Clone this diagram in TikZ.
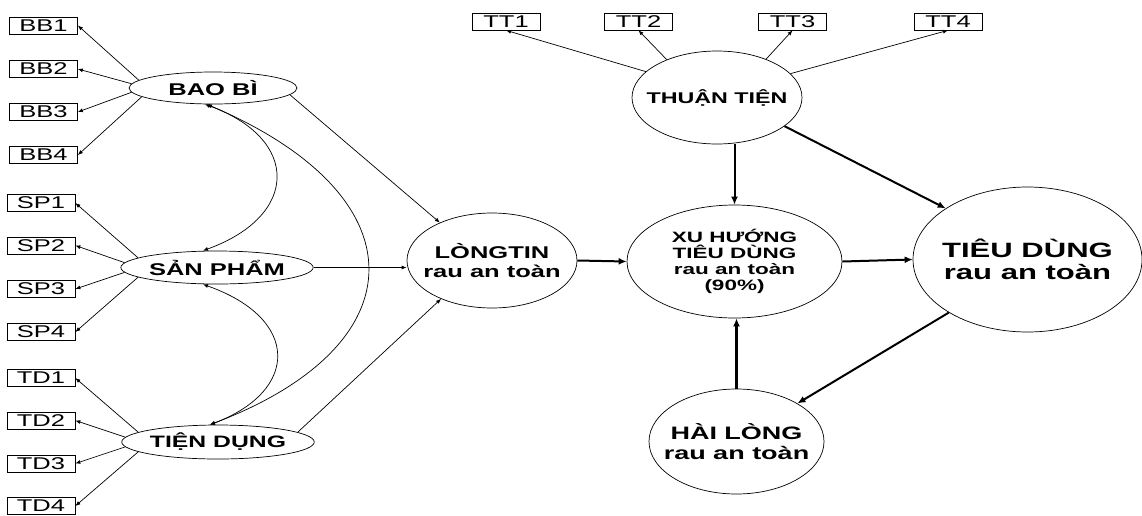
\documentclass[tikz,border=0pt]{standalone}
\usepackage{fontspec}
\setmainfont{Liberation Sans}[FakeStretch=1.5]
\usetikzlibrary{shapes.geometric,arrows.meta}
\begin{document}
\begin{tikzpicture}[x=1pt,y=-1pt,
  obs/.style={draw, line width=0.7pt, minimum width=68pt, minimum height=17pt, inner sep=0pt, font=\fontsize{17}{18}\selectfont},
  lat/.style={draw, ellipse, line width=0.7pt, inner sep=0pt},
  lab/.style={align=center, inner sep=0pt},
  thin/.style={-{Latex[length=5pt,width=4pt]}, line width=0.7pt},
  cov/.style={{Latex[length=5pt,width=4pt]}-{Latex[length=5pt,width=4pt]}, line width=0.7pt},
  main/.style={-{Latex[length=8pt,width=7pt]}, line width=2pt},
]
\useasboundingbox (0,0) rectangle (1142,515);
% observed indicators
\node[obs] (BB1) at (43.5,25.5) {BB1};
\node[obs] (BB2) at (43.5,69) {BB2};
\node[obs] (BB3) at (43.5,112) {BB3};
\node[obs] (BB4) at (43.5,155) {BB4};
\node[obs] (SP1) at (41,203) {SP1};
\node[obs] (SP2) at (41,245.5) {SP2};
\node[obs] (SP3) at (41,289) {SP3};
\node[obs] (SP4) at (41,332) {SP4};
\node[obs] (TD1) at (41,378) {TD1};
\node[obs] (TD2) at (41,420.5) {TD2};
\node[obs] (TD3) at (41,463.5) {TD3};
\node[obs] (TD4) at (41,506) {TD4};
\node[obs] (TT1) at (506,21.5) {TT1};
\node[obs] (TT2) at (638.5,21.5) {TT2};
\node[obs] (TT3) at (792.5,21.5) {TT3};
\node[obs] (TT4) at (948,21.5) {TT4};
% latent variables
\node[lat, minimum width=168pt, minimum height=32pt, font=\bfseries\fontsize{17}{19}\selectfont] (bb) at (213,88) {BAO BÌ};
\node[lat, minimum width=166pt, minimum height=33pt, font=\bfseries\fontsize{17}{19}\selectfont] (sp) at (217,267.5) {SẢN PHẨM};
\node[lat, minimum width=167pt, minimum height=34pt, font=\bfseries\fontsize{16.5}{19}\selectfont] (td) at (218,442) {TIỆN DỤNG};
\node[lat, minimum width=170pt, minimum height=95pt,
  label={[lab, font=\bfseries\fontsize{17}{18.5}\selectfont]center:{LÒNGTIN\\rau an toàn}}] (lt) at (492,260.5) {};
\node[lat, minimum width=215pt, minimum height=113pt,
  label={[lab, font=\bfseries\fontsize{15}{16}\selectfont]center:{XU HƯỚNG\\TIÊU DÙNG\\rau an toàn\\(90\%)}}] (xu) at (734.5,261.5) {};
\node[lat, minimum width=229pt, minimum height=145pt,
  label={[lab, font=\bfseries\fontsize{20.7}{22}\selectfont]center:{TIÊU DÙNG\\rau an toàn}}] (tdg) at (1027.5,259.5) {};
\node[lat, minimum width=175pt, minimum height=105pt,
  label={[lab, font=\bfseries\fontsize{18}{19.5}\selectfont]center:{HÀI LÒNG\\rau an toàn}}] (hl) at (736.5,441.5) {};
\node[lat, minimum width=170pt, minimum height=93pt,
  label={[lab, font=\bfseries\fontsize{15.5}{17}\selectfont]center:{THUẬN TIỆN}}] (th) at (717,97.5) {};
% loadings
\draw[thin] (bb.174) -- (BB1.east);
\draw[thin] (bb.177) -- (BB2.east);
\draw[thin] (bb.183) -- (BB3.east);
\draw[thin] (bb.187) -- (BB4.east);
\draw[thin] (sp.173) -- (SP1.east);
\draw[thin] (sp.177) -- (SP2.east);
\draw[thin] (sp.183) -- (SP3.east);
\draw[thin] (sp.187) -- (SP4.east);
\draw[thin] (td.173) -- (TD1.east);
\draw[thin] (td.177) -- (TD2.east);
\draw[thin] (td.183) -- (TD3.east);
\draw[thin] (td.187) -- (TD4.east);
\draw[thin] (th.160) -- (TT1.south);
\draw[thin] (th.143) -- (TT2.south);
\draw[thin] (th.38) -- (TT3.south);
\draw[thin] (th.18) -- (TT4.south);
% covariances
\draw[cov] ([xshift=-8pt]bb.south) .. controls +(95,34) and +(97,-35) .. ([xshift=-14pt]sp.north);
\draw[cov] ([xshift=-14pt]sp.south) .. controls +(97,34) and +(90,-34) .. ([xshift=-8pt]td.north);
\draw[cov] ([xshift=-6pt]bb.south) .. controls +(214,91) and +(211,-80) .. ([xshift=-8pt]td.north);
% paths to trust
\draw[thin] (bb.-5) -- (lt.144);
\draw[thin] (sp.east) -- (sp.east -| lt.west);
\draw[thin] (td.7) -- (lt.217);
% structural paths
\draw[main] (lt.east) -- (xu.west);
\draw[main] (xu.east) -- (tdg.west);
\draw[main] (xu.north |- th.south) -- (xu.north);
\draw[main] (th.-23) -- (tdg.148);
\draw[main] (tdg.214) -- (hl.32);
\draw[main, line width=3pt] (hl.north) -- (hl.north |- xu.south);
\end{tikzpicture}
\end{document}
